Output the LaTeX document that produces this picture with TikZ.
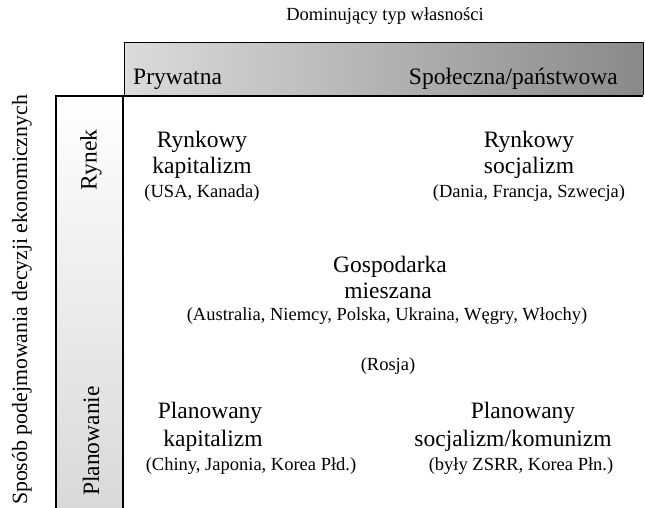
\documentclass[tikz,border=0pt]{standalone}
\usepackage{fontspec}
\setmainfont{Liberation Serif}
\begin{document}
\begin{tikzpicture}[x=1pt,y=-1pt,
  big/.style={font=\fontsize{23.5}{26}\selectfont, inner sep=0pt, anchor=base},
  small/.style={font=\fontsize{18.5}{22}\selectfont, inner sep=0pt, anchor=base},
  bar/.style={line width=2.2pt}]
\useasboundingbox (0,0) rectangle (645,508);
% top bar
\shade[left color=black!14, right color=black!46] (124,43) rectangle (643,95);
\draw[line width=1pt] (124,95) -- (124,43) -- (643,43) -- (643,95);
% left bar
\shade[top color=white, bottom color=black!15] (56,96) rectangle (123,508);
\draw[bar] (56,508) -- (56,96) -- (643,96);
\draw[bar] (123,96) -- (123,508);
% axis titles
\node[small] (ttop) at (385,21) {Dominujący typ własności};
\node[small, font=\fontsize{21.8}{24}\selectfont, rotate=90, anchor=center] (tleft) at (22,300) {Sposób podejmowania decyzji ekonomicznych};
% bar labels
\node[big, anchor=base west] (pryw) at (133,85) {Prywatna};
\node[big, anchor=base east] (spol) at (618,85) {Społeczna/państwowa};
\node[big, rotate=90, anchor=center] (rynek) at (91,160) {Rynek};
\node[big, rotate=90, anchor=center] (plan) at (91,441) {Planowanie};
% cells
\node[big] (rk1) at (202,147) {Rynkowy};
\node[big] (rk2) at (202,173) {kapitalizm};
\node[small] (rk3) at (202,197) {(USA, Kanada)};
\node[big] (rs1) at (529,147) {Rynkowy};
\node[big] (rs2) at (529,173) {socjalizm};
\node[small] (rs3) at (529,197) {(Dania, Francja, Szwecja)};
\node[big] (gm1) at (390,272) {Gospodarka};
\node[big] (gm2) at (388,298) {mieszana};
\node[small] (gm3) at (387,320) {(Australia, Niemcy, Polska, Ukraina, Węgry, Włochy)};
\node[small] (ros) at (388,370) {(Rosja)};
\node[big] (pk1) at (210,418) {Planowany};
\node[big] (pk2) at (213,446) {kapitalizm};
\node[small] (pk3) at (251,470) {(Chiny, Japonia, Korea Płd.)};
\node[big] (ps1) at (523,418) {Planowany};
\node[big] (ps2) at (513,446) {socjalizm/komunizm};
\node[small] (ps3) at (521,470) {(były ZSRR, Korea Płn.)};
\end{tikzpicture}
\end{document}
